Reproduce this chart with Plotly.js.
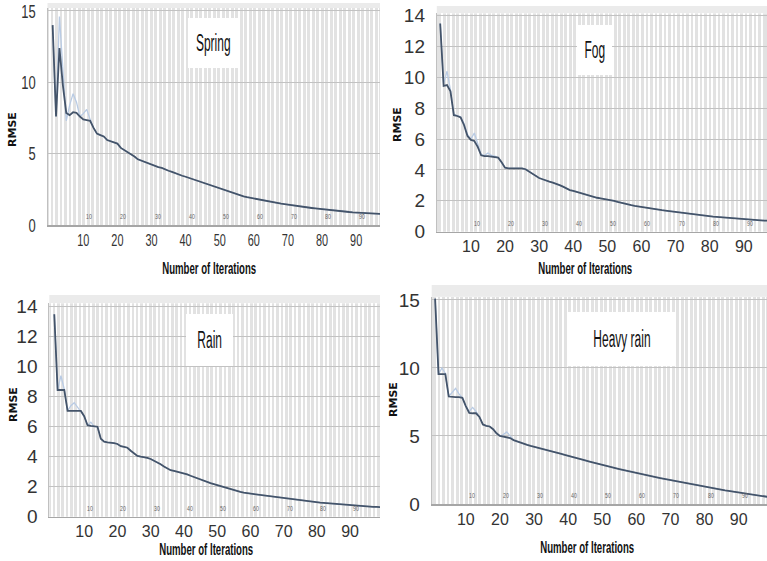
<!DOCTYPE html>
<html>
<head>
<meta charset="utf-8">
<script src="https://cdn.plot.ly/plotly-3.0.1.min.js"></script>
<style>html,body{margin:0;padding:0;background:#fff;}#chart{width:767px;height:561px;}</style>
</head>
<body>
<div id="chart"></div>
<script>
// ---------- data ----------
const panelNames = ["Spring", "Fog", "Rain", "Heavy rain"];
const xTickVals = [10, 20, 30, 40, 50, 60, 70, 80, 90];
const xTickText = ["10", "20", "30", "40", "50", "60", "70", "80", "90"];
const yTickVals5 = [0, 5, 10, 15];
const yTickVals2 = [0, 2, 4, 6, 8, 10, 12, 14];

const springMain = [14.0,7.6,12.4,9.8,7.85,7.7,7.9,7.85,7.6,7.4,7.35,7.3,6.8,6.4,6.3,6.2,5.95,5.85,5.78,5.7,
5.4,5.25,5.15,5.0,4.8,4.6,4.5,4.45,4.3,4.2,4.1,4.05,4.0,3.88,3.8,3.72,3.62,3.52,3.45,3.38,
3.3,3.2,3.12,3.05,2.95,2.86,2.77,2.69,2.62,2.54,2.46,2.38,2.3,2.22,2.14,2.08,2.01,1.95,1.9,1.85,
1.8,1.74,1.69,1.65,1.61,1.57,1.53,1.49,1.46,1.42,1.39,1.35,1.32,1.29,1.25,1.22,1.19,1.16,1.13,1.1,
1.08,1.05,1.03,1.0,0.98,0.95,0.93,0.91,0.89,0.87,0.86,0.84,0.83,0.81,0.8,0.79,0.78,0.77,0.76,0.75];
const springAlt = [14.0,7.6,14.6,10.5,7.3,8.4,9.2,8.6,7.6,7.8,8.1,7.4,6.8,6.4,6.3,6.2,5.95,5.85,5.78,5.7,
5.4,5.25,5.15,5.0,4.8,4.6,4.5,4.45,4.3,4.2,4.1,4.05,4.0,3.88,3.8,3.72,3.62,3.52,3.45,3.38,
3.3,3.2,3.12,3.05,2.95,2.86,2.77,2.69,2.62,2.54,2.46,2.38,2.3,2.22,2.14,2.08,2.01,1.95,1.9,1.85,
1.8,1.74,1.69,1.65,1.61,1.57,1.53,1.49,1.46,1.42,1.39,1.35,1.32,1.29,1.25,1.22,1.19,1.16,1.13,1.1,
1.08,1.05,1.03,1.0,0.98,0.95,0.93,0.91,0.89,0.87,0.86,0.84,0.83,0.81,0.8,0.79,0.78,0.77,0.76,0.75];

const fogMain = [13.5,9.45,9.5,9.1,7.55,7.5,7.4,6.9,6.2,5.95,5.88,5.5,4.95,4.9,4.9,4.88,4.85,4.8,4.5,4.15,
4.1,4.1,4.1,4.1,4.1,4.05,3.9,3.75,3.6,3.48,3.4,3.3,3.24,3.18,3.12,3.02,2.92,2.8,2.7,2.65,
2.58,2.52,2.48,2.42,2.35,2.27,2.2,2.16,2.13,2.1,2.06,2.0,1.93,1.87,1.82,1.77,1.72,1.68,1.64,1.6,
1.57,1.53,1.5,1.46,1.43,1.4,1.37,1.34,1.31,1.28,1.25,1.22,1.18,1.15,1.12,1.1,1.07,1.05,1.02,1.0,
0.98,0.96,0.94,0.92,0.91,0.89,0.87,0.85,0.83,0.82,0.8,0.79,0.77,0.76,0.74,0.72,0.71,0.7,0.69,0.68];
const fogAlt = [13.5,9.6,10.4,9.2,7.6,7.5,7.45,7.0,6.3,6.0,6.4,5.7,5.0,4.95,5.1,4.95,4.9,4.8,4.5,4.15,
4.1,4.1,4.1,4.1,4.1,4.05,3.9,3.75,3.6,3.48,3.4,3.3,3.24,3.18,3.12,3.02,2.92,2.8,2.7,2.65,
2.58,2.52,2.48,2.42,2.35,2.27,2.2,2.16,2.13,2.1,2.06,2.0,1.93,1.87,1.82,1.77,1.72,1.68,1.64,1.6,
1.57,1.53,1.5,1.46,1.43,1.4,1.37,1.34,1.31,1.28,1.25,1.22,1.18,1.15,1.12,1.1,1.07,1.05,1.02,1.0,
0.98,0.96,0.94,0.92,0.91,0.89,0.87,0.85,0.83,0.82,0.8,0.79,0.77,0.76,0.74,0.72,0.71,0.7,0.69,0.68];

const rainMain = [13.5,8.45,8.45,8.45,7.05,7.05,7.05,7.05,7.05,6.7,6.1,6.05,6.0,6.0,5.2,5.0,4.95,4.95,4.9,4.85,
4.7,4.65,4.6,4.4,4.2,4.05,4.0,3.97,3.92,3.85,3.75,3.62,3.5,3.35,3.2,3.1,3.05,3.0,2.95,2.9,
2.82,2.73,2.64,2.56,2.48,2.4,2.32,2.24,2.17,2.1,2.03,1.96,1.89,1.82,1.76,1.7,1.65,1.6,1.57,1.54,
1.51,1.48,1.45,1.41,1.38,1.35,1.32,1.28,1.25,1.22,1.19,1.16,1.13,1.1,1.08,1.05,1.02,1.0,0.98,0.96,
0.94,0.92,0.9,0.88,0.86,0.84,0.82,0.8,0.78,0.76,0.74,0.73,0.71,0.7,0.68,0.67,0.66,0.65,0.63,0.62];
const rainAlt = [13.5,8.45,9.4,8.5,7.05,7.4,7.6,7.3,7.05,6.7,6.1,6.3,6.0,6.0,5.2,5.0,4.95,4.95,4.9,4.85,
4.7,4.65,4.6,4.4,4.2,4.05,4.0,3.97,3.92,3.85,3.75,3.62,3.5,3.35,3.2,3.1,3.05,3.0,2.95,2.9,
2.82,2.73,2.64,2.56,2.48,2.4,2.32,2.24,2.17,2.1,2.03,1.96,1.89,1.82,1.76,1.7,1.65,1.6,1.57,1.54,
1.51,1.48,1.45,1.41,1.38,1.35,1.32,1.28,1.25,1.22,1.19,1.16,1.13,1.1,1.08,1.05,1.02,1.0,0.98,0.96,
0.94,0.92,0.9,0.88,0.86,0.84,0.82,0.8,0.78,0.76,0.74,0.73,0.71,0.7,0.68,0.67,0.66,0.65,0.63,0.62];

const heavyMain = [15.1,9.55,9.55,9.55,7.9,7.85,7.85,7.85,7.8,7.2,6.7,6.67,6.67,6.4,5.85,5.75,5.7,5.5,5.2,5.0,
4.95,4.95,4.85,4.7,4.6,4.5,4.45,4.35,4.27,4.2,4.12,4.05,3.98,3.92,3.86,3.8,3.74,3.68,3.62,3.56,
3.49,3.42,3.35,3.28,3.21,3.14,3.07,3.0,2.93,2.86,2.8,2.74,2.68,2.62,2.56,2.5,2.44,2.38,2.32,2.27,
2.21,2.16,2.1,2.05,2.0,1.95,1.9,1.85,1.8,1.75,1.7,1.65,1.6,1.55,1.5,1.45,1.4,1.35,1.3,1.25,
1.2,1.16,1.12,1.08,1.04,1.0,0.96,0.92,0.88,0.84,0.8,0.76,0.72,0.68,0.64,0.6,0.56,0.53,0.5,0.47];
const heavyAlt = [15.1,9.55,10.0,9.6,7.9,8.2,8.5,8.1,7.8,7.2,6.8,7.1,6.8,6.4,5.85,5.75,5.7,5.5,5.2,5.0,
5.1,5.3,5.0,4.7,4.6,4.5,4.45,4.35,4.27,4.2,4.12,4.05,3.98,3.92,3.86,3.8,3.74,3.68,3.62,3.56,
3.49,3.42,3.35,3.28,3.21,3.14,3.07,3.0,2.93,2.86,2.8,2.74,2.68,2.62,2.56,2.5,2.44,2.38,2.32,2.27,
2.21,2.16,2.1,2.05,2.0,1.95,1.9,1.85,1.8,1.75,1.7,1.65,1.6,1.55,1.5,1.45,1.4,1.35,1.3,1.25,
1.2,1.16,1.12,1.08,1.04,1.0,0.96,0.92,0.88,0.84,0.8,0.76,0.72,0.68,0.64,0.6,0.56,0.53,0.5,0.47];

const iterations = springMain.map((_, i) => i + 1);

// background stripe gap positions (decoration: white gaps between gray stripes)
const stripePeriod = 1.32;
const stripeVals = Array.from({length: 80}, (_, k) => 0.2 + k * stripePeriod);

// ---------- layout helpers ----------
const W = 767, H = 561;
const px = v => v / W;
const py = v => 1 - v / H;

const FONT = '"Liberation Sans", Arial, sans-serif';
const panels = [
  {name: panelNames[0], main: springMain, alt: springAlt, xd: [47.5, 380], yd: [8, 225], xr: [-0.5, 97], yr: [0, 15.2], yt: yTickVals5,
   box: [188, 18, 238, 68], xt: [209, 268], yl: [13, 130], band: [3, 8]},
  {name: panelNames[1], main: fogMain, alt: fogAlt, xd: [436.8, 767], yd: [13.4, 231.7], xr: [0, 96.8], yr: [0, 14.15], yt: yTickVals2,
   box: [577, 25, 612, 75], xt: [585, 268], yl: [398, 125], band: [6, 13.4]},
  {name: panelNames[2], main: rainMain, alt: rainAlt, xd: [49.3, 380], yd: [303.3, 516.7], xr: [-0.5, 99], yr: [0, 14.23], yt: yTickVals2,
   box: [186, 314, 233, 366], xt: [207, 549], yl: [13, 405], band: [295, 303.3]},
  {name: panelNames[3], main: heavyMain, alt: heavyAlt, xd: [431.7, 767], yd: [296.7, 504], xr: [0, 98.3], yr: [0, 15.24], yt: yTickVals5,
   box: [568, 312, 676, 366], xt: [587, 547], yl: [393, 400], band: [285, 296.7]}
];

const traces = [];
const layout = {
  width: W, height: H, margin: {l: 0, r: 0, t: 0, b: 0},
  paper_bgcolor: '#ffffff', plot_bgcolor: '#e2e2e2', showlegend: false,
  annotations: [], shapes: []
};

panels.forEach((p, i) => {
  const n = i === 0 ? '' : String(i + 1);
  const xa = 'x' + n, ya = 'y' + n;
  traces.push({x: iterations, y: p.alt, xaxis: xa, yaxis: ya, type: 'scatter', mode: 'lines',
    line: {color: '#b9cbe4', width: 1.3}, hoverinfo: 'skip'});
  traces.push({x: iterations, y: p.main, xaxis: xa, yaxis: ya, type: 'scatter', mode: 'lines',
    line: {color: '#44546a', width: 1.8}, hoverinfo: 'skip'});

  layout['xaxis' + n] = {
    domain: [px(p.xd[0]), px(p.xd[1])], range: p.xr, anchor: ya,
    showgrid: false, zeroline: false, showline: true, linecolor: '#a6a6a6', linewidth: 1.5,
    tickmode: 'array', tickvals: xTickVals, ticktext: xTickText, ticks: '',
    tickfont: {family: FONT, size: 16, color: '#333333'},
    minor: {tickmode: 'array', tickvals: stripeVals, showgrid: true, gridcolor: '#ffffff', gridwidth: 1.8, ticks: ''},
    fixedrange: true
  };
  layout['yaxis' + n] = {
    domain: [py(p.yd[1]), py(p.yd[0])], range: p.yr, anchor: xa,
    showgrid: true, gridcolor: '#c2c2c2', gridwidth: 1, zeroline: false,
    showline: true, linecolor: '#c0c0c0', linewidth: 1,
    tickmode: 'array', tickvals: p.yt, ticks: '', ticklabelstandoff: 7, ticklabeloverflow: 'allow',
    tickfont: {family: FONT, size: 19, color: '#333333'},
    fixedrange: true
  };

  layout.shapes.push({type: 'rect', xref: 'paper', yref: 'paper', layer: 'below',
    x0: px(p.xd[0]), x1: px(p.xd[1]), y0: py(p.band[1]), y1: py(p.band[0]),
    fillcolor: '#ebebeb', line: {width: 0}});

  layout.shapes.push({type: 'rect', xref: 'paper', yref: 'paper', layer: 'above',
    x0: px(p.box[0]), x1: px(p.box[2]), y0: py(p.box[3]), y1: py(p.box[1]),
    fillcolor: '#ffffff', line: {width: 0}});
  layout.annotations.push({xref: 'paper', yref: 'paper', x: px((p.box[0] + p.box[2]) / 2), y: py((p.box[1] + p.box[3]) / 2),
    text: p.name, showarrow: false, xanchor: 'center', yanchor: 'middle',
    font: {family: FONT, size: 23, color: '#111111'}});

  layout.annotations.push({xref: 'paper', yref: 'paper', x: px(p.xt[0]), y: py(p.xt[1]),
    text: '<b>Number of Iterations</b>', showarrow: false, xanchor: 'center', yanchor: 'middle',
    font: {family: FONT, size: 16, color: '#111111'}});
  layout.annotations.push({xref: 'paper', yref: 'paper', x: px(p.yl[0]), y: py(p.yl[1]),
    text: '<b>RMSE</b>', showarrow: false, textangle: -90, xanchor: 'center', yanchor: 'middle',
    font: {family: 'DejaVu Sans, sans-serif', size: 11, color: '#111111'}});

  xTickVals.forEach((v, k) => {
    layout.annotations.push({xref: xa, yref: ya + ' domain', x: v, y: 0, yanchor: 'bottom', xanchor: 'left',
      yshift: 3, text: xTickText[k], showarrow: false,
      font: {family: FONT, size: 7, color: '#666666'}});
  });
});

Plotly.newPlot('chart', traces, layout, {staticPlot: true, displayModeBar: false}).then(() => {
  // narrow the text horizontally to imitate the condensed face of the original
  const squeeze = (el, f) => {
    const w = el.getComputedTextLength();
    if (w > 0) { el.setAttribute('textLength', (w * f).toFixed(1)); el.setAttribute('lengthAdjust', 'spacingAndGlyphs'); }
  };
  document.querySelectorAll('.xtick text, .ytick text').forEach(t => squeeze(t, 0.68));
  document.querySelectorAll('text.annotation-text').forEach(t => {
    const s = t.textContent;
    if (s === 'RMSE') return;
    if (panelNames.indexOf(s) >= 0) squeeze(t, 0.52);
    else if (s === 'Number of Iterations') squeeze(t, 0.6);
    else squeeze(t, 0.75);
  });
});
</script>
</body>
</html>
